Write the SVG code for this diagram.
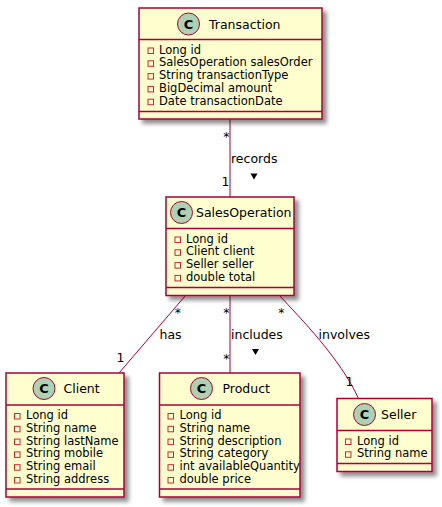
<svg xmlns="http://www.w3.org/2000/svg" width="442" height="507" viewBox="0 0 442 507">
<defs>
<filter id="sh" x="-10%" y="-10%" width="130%" height="130%">
<feGaussianBlur in="SourceAlpha" stdDeviation="2" result="b"/>
<feOffset in="b" dx="4" dy="4" result="o"/>
<feComponentTransfer in="o" result="s"><feFuncA type="linear" slope="0.45"/></feComponentTransfer>
<feMerge><feMergeNode in="s"/><feMergeNode in="SourceGraphic"/></feMerge>
</filter>
</defs>
<style>
.box{fill:#FEFECE;stroke:#A80036;stroke-width:1.5;filter:url(#sh)}
.sep{stroke:#A80036;stroke-width:1.5}
.circ{fill:#ADD1B2;stroke:#A80036;stroke-width:1}
.cl{font-family:"DejaVu Sans",sans-serif;font-weight:bold;font-size:13px;fill:#000;text-anchor:middle}
.t{font-family:"DejaVu Sans",sans-serif;font-size:12.5px;fill:#000}
.a{font-family:"DejaVu Sans",sans-serif;font-size:11.5px;fill:#000}
.ic{fill:none;stroke:#C82930;stroke-width:1}
.ln{fill:none;stroke:#A80036;stroke-width:1}
.lb{font-family:"DejaVu Sans",sans-serif;font-size:12.5px;fill:#000}
.e{text-anchor:end}
</style>
<g id="connectors">
<line class="ln" x1="230" y1="119" x2="230" y2="197"/>
<text class="lb e" x="229.5" y="141">*</text>
<text class="lb" x="231" y="163">records</text>
<polygon points="250.5,173.5 257.5,173.5 254,179.5" fill="#000"/>
<text class="lb e" x="229.5" y="186">1</text>
<line class="ln" x1="185.5" y1="295.5" x2="119" y2="373"/>
<text class="lb e" x="181" y="317">*</text>
<text class="lb" x="159.5" y="338.5">has</text>
<text class="lb e" x="124.5" y="362">1</text>
<line class="ln" x1="230" y1="295.5" x2="230" y2="373"/>
<text class="lb e" x="229.5" y="317">*</text>
<text class="lb" x="231" y="338.5">includes</text>
<polygon points="252,349 259,349 255.5,355" fill="#000"/>
<text class="lb e" x="229.5" y="363">*</text>
<path class="ln" d="M279.5,295.5 C300,318 340,358 358.5,398.5"/>
<text class="lb e" x="284.5" y="317">*</text>
<text class="lb" x="318.5" y="338.5">involves</text>
<text class="lb e" x="353.5" y="386">1</text>
</g>
<g id="Transaction">
<rect class="box" x="139" y="8" width="183" height="111"/>
<circle class="circ" cx="188.5" cy="24" r="11"/>
<text class="cl" x="188.5" y="28.7">C</text>
<text class="t" x="209" y="28.5">Transaction</text>
<line class="sep" x1="139" y1="39.5" x2="322" y2="39.5"/>
<rect class="ic" x="148" y="48" width="5.5" height="5.5"/><text class="a" x="159" y="53.5">Long id</text>
<rect class="ic" x="148" y="60.8" width="5.5" height="5.5"/><text class="a" x="159" y="66.3">SalesOperation salesOrder</text>
<rect class="ic" x="148" y="73.6" width="5.5" height="5.5"/><text class="a" x="159" y="79.1">String transactionType</text>
<rect class="ic" x="148" y="86.4" width="5.5" height="5.5"/><text class="a" x="159" y="91.9">BigDecimal amount</text>
<rect class="ic" x="148" y="99.2" width="5.5" height="5.5"/><text class="a" x="159" y="104.7">Date transactionDate</text>
<line class="sep" x1="139" y1="111.5" x2="322" y2="111.5"/>
</g>
<g id="SalesOperation">
<rect class="box" x="166" y="197" width="128" height="98.5"/>
<circle class="circ" cx="181.5" cy="212.5" r="11"/>
<text class="cl" x="181.5" y="217.2">C</text>
<text class="t" x="196" y="217">SalesOperation</text>
<line class="sep" x1="166" y1="228.5" x2="294" y2="228.5"/>
<rect class="ic" x="175" y="237" width="5.5" height="5.5"/><text class="a" x="186" y="242.5">Long id</text>
<rect class="ic" x="175" y="249.8" width="5.5" height="5.5"/><text class="a" x="186" y="255.3">Client client</text>
<rect class="ic" x="175" y="262.6" width="5.5" height="5.5"/><text class="a" x="186" y="268.1">Seller seller</text>
<rect class="ic" x="175" y="275.4" width="5.5" height="5.5"/><text class="a" x="186" y="280.9">double total</text>
<line class="sep" x1="166" y1="287.5" x2="294" y2="287.5"/>
</g>
<g id="Client">
<rect class="box" x="6" y="373" width="118" height="124"/>
<circle class="circ" cx="44" cy="388.5" r="11"/>
<text class="cl" x="44" y="393.2">C</text>
<text class="t" x="63.5" y="393">Client</text>
<line class="sep" x1="6" y1="405" x2="124" y2="405"/>
<rect class="ic" x="14.5" y="413.5" width="5.5" height="5.5"/><text class="a" x="26" y="419">Long id</text>
<rect class="ic" x="14.5" y="426.3" width="5.5" height="5.5"/><text class="a" x="26" y="431.8">String name</text>
<rect class="ic" x="14.5" y="439.1" width="5.5" height="5.5"/><text class="a" x="26" y="444.6">String lastName</text>
<rect class="ic" x="14.5" y="451.9" width="5.5" height="5.5"/><text class="a" x="26" y="457.4">String mobile</text>
<rect class="ic" x="14.5" y="464.7" width="5.5" height="5.5"/><text class="a" x="26" y="470.2">String email</text>
<rect class="ic" x="14.5" y="477.5" width="5.5" height="5.5"/><text class="a" x="26" y="483">String address</text>
<line class="sep" x1="6" y1="489" x2="124" y2="489"/>
</g>
<g id="Product">
<rect class="box" x="159.5" y="373" width="140.5" height="124"/>
<circle class="circ" cx="201.5" cy="388.5" r="11"/>
<text class="cl" x="201.5" y="393.2">C</text>
<text class="t" x="222.5" y="393">Product</text>
<line class="sep" x1="159.5" y1="405" x2="300" y2="405"/>
<rect class="ic" x="168" y="413.5" width="5.5" height="5.5"/><text class="a" x="179.5" y="419">Long id</text>
<rect class="ic" x="168" y="426.3" width="5.5" height="5.5"/><text class="a" x="179.5" y="431.8">String name</text>
<rect class="ic" x="168" y="439.1" width="5.5" height="5.5"/><text class="a" x="179.5" y="444.6">String description</text>
<rect class="ic" x="168" y="451.9" width="5.5" height="5.5"/><text class="a" x="179.5" y="457.4">String category</text>
<rect class="ic" x="168" y="464.7" width="5.5" height="5.5"/><text class="a" x="179.5" y="470.2">int availableQuantity</text>
<rect class="ic" x="168" y="477.5" width="5.5" height="5.5"/><text class="a" x="179.5" y="483">double price</text>
<line class="sep" x1="159.5" y1="489" x2="300" y2="489"/>
</g>
<g id="Seller">
<rect class="box" x="337" y="398.5" width="95" height="73"/>
<circle class="circ" cx="364.5" cy="414.5" r="11"/>
<text class="cl" x="364.5" y="419.2">C</text>
<text class="t" x="381" y="419">Seller</text>
<line class="sep" x1="337" y1="430.5" x2="432" y2="430.5"/>
<rect class="ic" x="345.5" y="439" width="5.5" height="5.5"/><text class="a" x="357" y="444.5">Long id</text>
<rect class="ic" x="345.5" y="451.8" width="5.5" height="5.5"/><text class="a" x="357" y="457.3">String name</text>
<line class="sep" x1="337" y1="463.5" x2="432" y2="463.5"/>
</g>
</svg>
